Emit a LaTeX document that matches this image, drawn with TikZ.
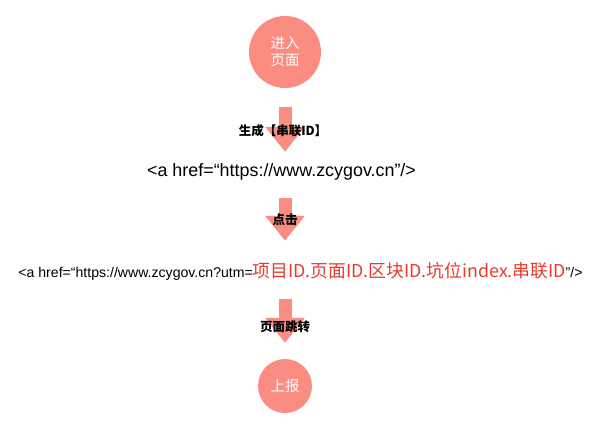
\documentclass[tikz,border=0pt]{standalone}
\usepackage{fontspec}
\setmainfont{Liberation Sans}
\newfontfamily\cjk{Noto Sans CJK SC}
\usetikzlibrary{arrows.meta}
\definecolor{salmon}{HTML}{FA8C82}
\definecolor{markred}{HTML}{E83A2E}
\tikzset{x=1pt,y=-1pt,
    stepcircle/.style={circle,fill=salmon,text=white,inner sep=0pt,align=center,font=\cjk\fontsize{14.5}{17}\selectfont},
    flowarrow/.style={draw=salmon,line width=13pt,-{Triangle[width=38pt,length=25pt]}},
    arrowlabel/.style={font=\cjk\bfseries\fontsize{12.5}{14}\selectfont},
    codeline/.style={inner sep=0pt,minimum height=18pt},
    }

\begin{document}
\begin{tikzpicture}
	\useasboundingbox (0,0) rectangle (596,427);
	\node[stepcircle,minimum size=72pt] (enter) at (285,52) {进入\\页面};
	\node[codeline,font=\fontsize{17.9}{20}\selectfont] (link) at (281.5,172) {<a href=“https://www.zcygov.cn”/>};
	\node[codeline,font=\fontsize{14.1}{16}\selectfont] (utm) at (300.5,271)
		{<a href=“https://www.zcygov.cn?utm={\cjk\fontsize{17.8}{20}\selectfont\color{markred}项目ID.页面ID.区块ID.坑位index.串联ID}”/>};
	\node[stepcircle,minimum size=54pt] (report) at (285,386) {上报};
	% arrows
	\draw[flowarrow,shorten <=19pt,shorten >=11pt] (enter.south) -- (enter.south |- link.north);
	\draw[flowarrow,shorten <=17pt,shorten >=21pt] (enter.south |- link.south) -- (enter.south |- utm.north);
	\draw[flowarrow,shorten <=19pt,shorten >=16pt] (report.north |- utm.south) -- (report.north);
	\node[arrowlabel] (gen) at (283,131) {生成【串联ID】};
	\node[arrowlabel] (click) at (285,220) {点击};
	\node[arrowlabel] (jump) at (285,327) {页面跳转};
\end{tikzpicture}
\end{document}
